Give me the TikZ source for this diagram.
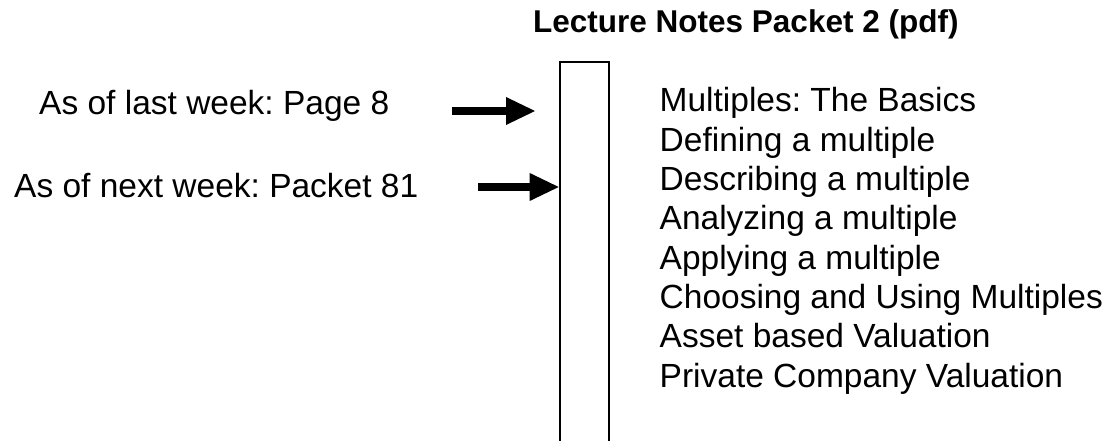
\documentclass[tikz,border=0pt]{standalone}
\usepackage{fontspec}
\setmainfont{Liberation Sans}
\usetikzlibrary{arrows.meta}
\frenchspacing
\tikzset{
  lbl/.style={inner sep=0pt, anchor=base west, font=\fontsize{33.5}{39}\selectfont},
  ttl/.style={inner sep=0pt, anchor=base west, font=\fontsize{31.5}{38}\selectfont\bfseries},
  pkt/.style={draw=black, line width=2.4pt, fill=white, inner sep=0pt},
  pointer/.style={line width=8.5pt, -{Triangle[length=29pt,width=28pt,line width=0pt]}},
}
\begin{document}
\begin{tikzpicture}[x=1pt,y=-1pt]
\useasboundingbox (0,0) rectangle (1112,441);
\fill[white] (0,0) rectangle (1112,441);
% title
\node[ttl] (title) at (533,33) {Lecture Notes Packet 2 (pdf)};
% packet box
\coordinate (bnw) at (558.7,60.7);
\node[pkt, minimum width=49.3pt, minimum height=381.3pt, anchor=north west] (packet) at (bnw) {};
% left labels
\node[lbl] (last) at (39,115) {As of last week: Page 8};
\node[lbl] (next) at (14,198) {As of next week: Packet 81};
% arrows
\coordinate (s1) at (452,111);
\coordinate (t1) at (535,111);
\coordinate (s2) at (478,187);
\draw[pointer] (s1) -- (t1);
\draw[pointer] (s2) -- (packet.west |- s2);
% list
\foreach \t [count=\i from 0] in {Multiples: The Basics, Defining a multiple, Describing a multiple, Analyzing a multiple, Applying a multiple, Choosing and Using Multiples, Asset based Valuation, Private Company Valuation}
  \node[lbl] (item\i) at (659.5,112+39.3*\i) {\t};
\end{tikzpicture}
\end{document}
